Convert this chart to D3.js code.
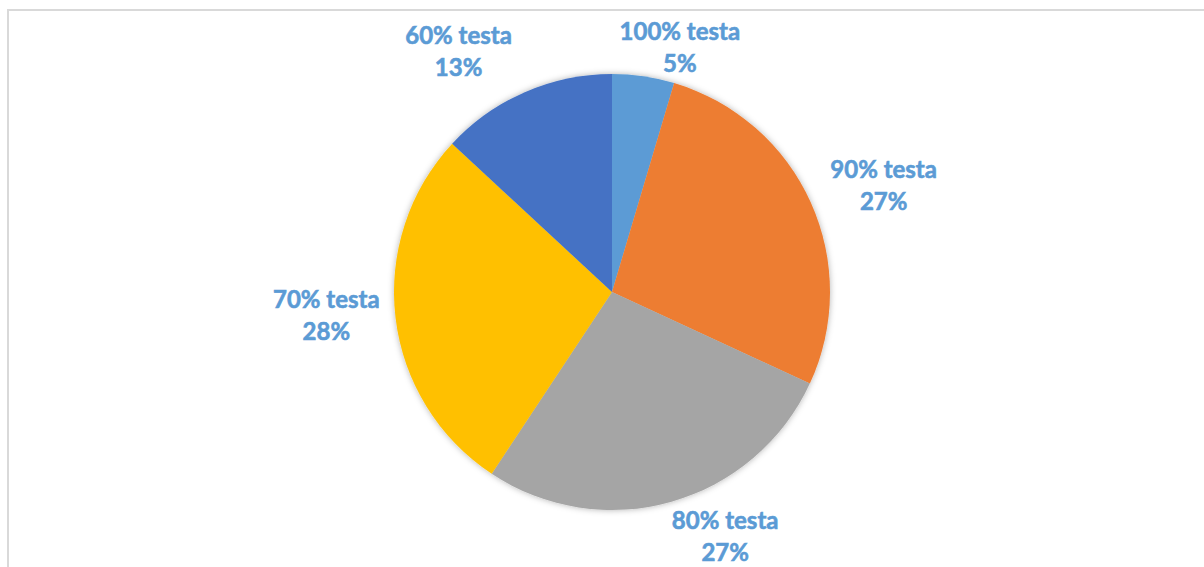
<!DOCTYPE html>
<html>
<head>
<meta charset="utf-8">
<script src="https://cdnjs.cloudflare.com/ajax/libs/d3/7.8.5/d3.min.js"></script>
<style>
  body { margin: 0; background: #fff; }
  svg { display: block; }
</style>
</head>
<body>
<div id="chart"></div>
<script>
// data (share of tests)
var categories = ["100% testa", "90% testa", "80% testa", "70% testa", "60% testa"];
var values = [4.6, 27.3, 27.4, 27.6, 13.1];
var colors = ["#5B9BD5", "#ED7D31", "#A5A5A5", "#FFC000", "#4472C4"];

var width = 1204, height = 567;
var cx = 612, cy = 292, radius = 218;
var plotTop = 18, plotBottom = 567;

// small angular nudges (degrees) so labels sit like Excel's "best fit"
var labelNudge = [6, 3, -8, 2, -9];

var svg = d3.select("#chart")
    .append("svg")
    .attr("width", width)
    .attr("height", height);

var defs = svg.append("defs");
var shadow = defs.append("filter")
    .attr("id", "shadow")
    .attr("x", "-20%").attr("y", "-20%")
    .attr("width", "140%").attr("height", "140%");
shadow.append("feDropShadow")
    .attr("dx", 0).attr("dy", 0)
    .attr("stdDeviation", 3)
    .attr("flood-color", "#000")
    .attr("flood-opacity", 0.3);

// chart frame
svg.append("rect")
    .attr("x", 8)
    .attr("y", 10)
    .attr("width", width + 20)
    .attr("height", height + 20)
    .attr("fill", "none")
    .attr("stroke", "#d9d9d9")
    .attr("stroke-width", 2);

var total = d3.sum(values);
var data = categories.map(function(c, i) {
    return { name: c, value: values[i], color: colors[i], i: i };
});

var pie = d3.pie()
    .sort(null)
    .value(function(d) { return d.value; });

var arc = d3.arc()
    .innerRadius(0)
    .outerRadius(radius);

var g = svg.append("g")
    .attr("transform", "translate(" + cx + "," + cy + ")");

var arcs = pie(data);

g.append("g")
    .attr("filter", "url(#shadow)")
    .selectAll("path")
    .data(arcs)
    .enter()
    .append("path")
    .attr("d", arc)
    .attr("fill", function(d) { return d.data.color; });

// labels
var fontSize = 24, lineH = 32, labelR = 231;

var labels = g.append("g")
    .selectAll("text")
    .data(arcs)
    .enter()
    .append("text")
    .attr("text-anchor", "middle")
    .style("font-family", "Lato, 'Open Sans', sans-serif")
    .style("font-weight", "bold")
    .style("font-size", fontSize + "px")
    .attr("fill", "#5B9BD5")
    .attr("stroke", "#5B9BD5")
    .attr("stroke-width", 0.6);

labels.append("tspan")
    .attr("class", "l1")
    .attr("x", 0)
    .text(function(d) { return d.data.name; });

labels.append("tspan")
    .attr("class", "l2")
    .attr("x", 0)
    .attr("dy", lineH)
    .text(function(d) { return Math.round(d.data.value / total * 100) + "%"; });

labels.each(function(d) {
    var t = d3.select(this);
    var w = t.select(".l1").node().getComputedTextLength();
    var h = 60;
    var a = (d.startAngle + d.endAngle) / 2 + labelNudge[d.data.i] * Math.PI / 180;
    var s = Math.sin(a), c = Math.cos(a);
    var dist = labelR + w / 2 * Math.abs(s) + h / 2 * Math.abs(c);
    var x = s * dist;
    var y = -c * dist;
    // keep the label inside the plot area
    y = Math.max(y, plotTop + h / 2 - cy);
    y = Math.min(y, plotBottom - h / 2 - cy);
    // baseline of first line: center minus half block, plus half cap height
    var y0 = y - lineH / 2 + fontSize * 0.33;
    t.attr("transform", "translate(" + x + "," + y0 + ")");
});
</script>
</body>
</html>
